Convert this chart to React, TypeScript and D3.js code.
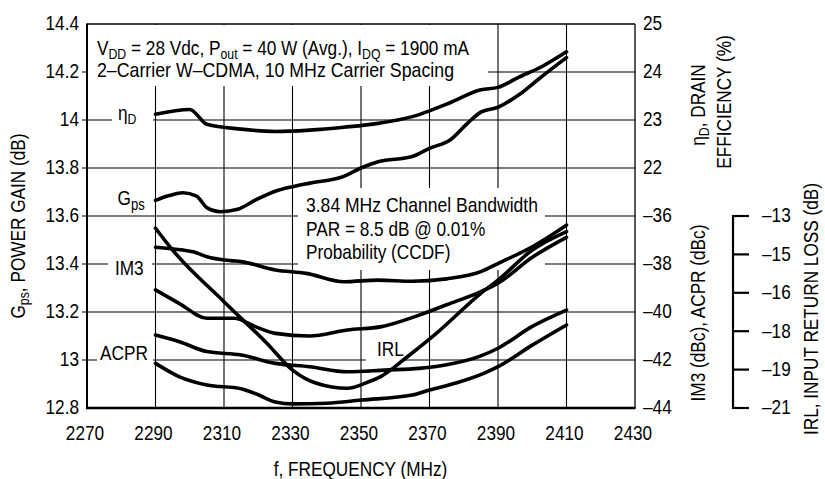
import React from 'react';
import * as d3 from 'd3';

// ---------- data ----------
const freqTicks = [2270, 2290, 2310, 2330, 2350, 2370, 2390, 2410, 2430];
const gainTicks = [12.8, 13.0, 13.2, 13.4, 13.6, 13.8, 14.0, 14.2, 14.4];
const gainTickLabels = ['12.8', '13', '13.2', '13.4', '13.6', '13.8', '14', '14.2', '14.4'];
const effTicks = [22, 23, 24, 25];
const dbcTicks = [-44, -42, -40, -38, -36];
const dbcTickLabels = ['–44', '–42', '–40', '–38', '–36'];
const irlTicks = [-21, -19.4, -17.8, -16.2, -14.6, -13];
const irlTickLabels = ['–21', '–19', '–18', '–16', '–15', '–13'];

const effFreq = [2290, 2300, 2305, 2315, 2325, 2335, 2345, 2355, 2365, 2370, 2376, 2385, 2390, 2396, 2403, 2410];
const effVals = [23.12, 23.22, 22.91, 22.81, 22.76, 22.79, 22.85, 22.93, 23.07, 23.19, 23.36, 23.63, 23.68, 23.89, 24.12, 24.42];

const gpsFreq = [2290, 2294, 2298, 2302, 2305, 2309, 2314, 2319, 2325, 2330, 2335, 2345, 2350, 2355, 2365, 2370, 2376, 2381, 2385, 2390, 2396, 2402, 2410];
const gpsVals = [13.665, 13.685, 13.697, 13.683, 13.635, 13.618, 13.628, 13.665, 13.703, 13.722, 13.737, 13.765, 13.8, 13.826, 13.848, 13.882, 13.917, 13.985, 14.033, 14.053, 14.104, 14.172, 14.26];

const irlFreq = [2290, 2295, 2310, 2322.5, 2330, 2337, 2346, 2352, 2356, 2359, 2362, 2372, 2385, 2390, 2400, 2410];
const irlVals = [-13.51, -14.42, -16.57, -18.3, -19.42, -19.97, -20.18, -19.92, -19.67, -19.38, -19.04, -17.89, -16.22, -15.67, -14.42, -13.65];

const im3UpperFreq = [2290, 2298, 2301, 2305, 2312, 2315, 2325, 2334, 2345, 2355, 2365, 2375, 2385, 2390, 2400, 2410];
const im3UpperVals = [-37.3, -37.42, -37.49, -37.7, -37.86, -37.9, -38.25, -38.39, -38.74, -38.67, -38.72, -38.62, -38.32, -37.98, -37.28, -36.38];

const im3LowerFreq = [2290, 2297, 2305, 2313, 2319, 2325, 2335, 2346, 2356, 2367, 2375, 2385, 2390, 2400, 2410];
const im3LowerVals = [-39.08, -39.65, -40.26, -40.26, -40.6, -40.89, -41.0, -40.75, -40.61, -40.13, -39.7, -39.15, -38.8, -37.72, -36.89];

const acprUpperFreq = [2290, 2297, 2305, 2315, 2325, 2335, 2346, 2357, 2367, 2375, 2385, 2390, 2400, 2410];
const acprUpperVals = [-40.96, -41.24, -41.65, -41.79, -42.14, -42.28, -42.49, -42.42, -42.35, -42.2, -41.83, -41.51, -40.6, -39.92];

const acprLowerFreq = [2290, 2297, 2305, 2315, 2320, 2325, 2330, 2340, 2350, 2365, 2370, 2378, 2386, 2390, 2400, 2410];
const acprLowerVals = [-42.14, -42.7, -43.04, -43.2, -43.45, -43.75, -43.83, -43.8, -43.67, -43.46, -43.25, -42.95, -42.55, -42.28, -41.38, -40.54];

// ---------- layout ----------
const W = 825;
const H = 479;
const L = 87;
const R = 635;
const T = 24;
const B = 408;
const FONT = "'Liberation Sans', Arial, sans-serif";
const FS = 21;
const SUB = 15;
const NARROW = 0.82;

const x = d3.scaleLinear().domain([2270, 2430]).range([L, R]);
const yG = d3.scaleLinear().domain([12.8, 14.4]).range([B, T]);
const yEff = d3.scaleLinear().domain([22, 25]).range([yG(13.8), T]);
const yDbc = d3.scaleLinear().domain([-44, -36]).range([B, yG(13.6)]);
const yIrl = d3.scaleLinear().domain([-21, -13]).range([B, yG(13.6)]);
const IRL_AX = 733;

function zip(f: number[], v: number[]): [number, number][] {
  return f.map((d, i) => [d, v[i]]);
}

function pathFor(f: number[], v: number[], y: d3.ScaleLinear<number, number>) {
  const gen = d3
    .line<[number, number]>()
    .x((d) => x(d[0]))
    .y((d) => y(d[1]))
    .curve(d3.curveMonotoneX);
  return gen(zip(f, v)) || '';
}

const series = [
  { f: effFreq, v: effVals, y: yEff },
  { f: gpsFreq, v: gpsVals, y: yG },
  { f: irlFreq, v: irlVals, y: yIrl },
  { f: im3UpperFreq, v: im3UpperVals, y: yDbc },
  { f: im3LowerFreq, v: im3LowerVals, y: yDbc },
  { f: acprUpperFreq, v: acprUpperVals, y: yDbc },
  { f: acprLowerFreq, v: acprLowerVals, y: yDbc },
];

// white label backgrounds (cover the grid behind the text)
const boxes = [
  { x0: L + 1, x1: 488, y0: T + 1, y1: 86 },
  { x0: 298, x1: 545, y0: 188, y1: 270 },
  { x0: 112, x1: 153, y0: 106, y1: 130 },
  { x0: 108, x1: 152, y0: 253, y1: 277 },
  { x0: 97, x1: 153, y0: 342, y1: 364 },
  { x0: 366, x1: 405, y0: 336, y1: 364 },
];

type TxtProps = {
  x: number;
  y: number;
  rot?: number;
  anchor?: 'start' | 'middle' | 'end';
  dy?: string | number;
  span?: number;
  children?: React.ReactNode;
};

function Txt({ x: tx, y: ty, rot = 0, anchor = 'start', dy, span, children }: TxtProps) {
  const extra = span ? { textLength: span / NARROW, lengthAdjust: 'spacingAndGlyphs' } : {};
  return (
    <text
      transform={`translate(${tx},${ty}) rotate(${rot}) scale(${NARROW},1)`}
      textAnchor={anchor}
      dy={dy}
      {...(extra as any)}
    >
      {children}
    </text>
  );
}

export default function App() {
  const inner = gainTicks.filter((g) => g > 12.85 && g < 14.35);
  const innerF = freqTicks.filter((f) => f > 2275 && f < 2425);
  return (
    <svg
      width={W}
      height={H}
      viewBox={`0 0 ${W} ${H}`}
      style={{ position: 'absolute', left: 0, top: 0, background: '#fff' }}
      fontFamily={FONT}
      fontSize={FS}
      fill="#000"
    >
      <rect x={0} y={0} width={W} height={H} fill="#fff" />
      {/* grid */}
      {inner.map((g) => (
        <line key={'h' + g} x1={L - 5} x2={R} y1={yG(g)} y2={yG(g)} stroke="#000" strokeWidth={1.1} />
      ))}
      {innerF.map((f) => (
        <line key={'v' + f} x1={x(f)} x2={x(f)} y1={T} y2={B} stroke="#000" strokeWidth={1.1} />
      ))}
      {boxes.map((b, i) => (
        <rect key={'b' + i} x={b.x0} y={b.y0} width={b.x1 - b.x0} height={b.y1 - b.y0} fill="#fff" />
      ))}
      {/* frame */}
      <line x1={L} x2={R} y1={T} y2={T} stroke="#000" strokeWidth={1.3} />
      <line x1={R} x2={R} y1={T} y2={B} stroke="#000" strokeWidth={1.3} />
      <line x1={L} x2={L} y1={T - 0.6} y2={B} stroke="#000" strokeWidth={2} />
      <line x1={L - 1} x2={R + 0.6} y1={B} y2={B} stroke="#000" strokeWidth={2.6} />

      {/* curves */}
      {series.map((s, i) => (
        <path
          key={'s' + i}
          d={pathFor(s.f, s.v, s.y)}
          fill="none"
          stroke="#000"
          strokeWidth={3.6}
          strokeLinejoin="round"
          strokeLinecap="round"
        />
      ))}

      {/* left axis labels */}
      {gainTicks.map((g, i) => (
        <Txt key={'gl' + g} x={79} y={yG(g)} dy="0.3em" anchor="end">
          {gainTickLabels[i]}
        </Txt>
      ))}
      {/* bottom axis labels */}
      {freqTicks.map((f) => (
        <Txt key={'fl' + f} x={x(f) - 2} y={440} anchor="middle">
          {f}
        </Txt>
      ))}
      {/* right axis: efficiency */}
      {effTicks.map((e) => (
        <Txt key={'el' + e} x={643} y={yEff(e)} dy="0.3em">
          {e}
        </Txt>
      ))}
      {/* right axis: dBc */}
      {dbcTicks.map((d, i) => (
        <Txt key={'dl' + d} x={643} y={yDbc(d)} dy="0.3em">
          {dbcTickLabels[i]}
        </Txt>
      ))}
      {/* IRL axis */}
      <line x1={IRL_AX} x2={IRL_AX} y1={yIrl(-13) - 1} y2={yIrl(-21) + 1} stroke="#000" strokeWidth={2.2} />
      {irlTicks.map((r, i) => (
        <g key={'ir' + r}>
          <line x1={IRL_AX} x2={IRL_AX + 16} y1={yIrl(r)} y2={yIrl(r)} stroke="#000" strokeWidth={2.2} />
          <Txt x={762} y={yIrl(r)} dy="0.3em">
            {irlTickLabels[i]}
          </Txt>
        </g>
      ))}

      {/* axis titles */}
      <Txt x={25} y={226} rot={-90} anchor="middle">
        G<tspan fontSize={SUB} dy={4}>ps</tspan>
        <tspan dy={-4}>, POWER GAIN (dB)</tspan>
      </Txt>
      <Txt x={360.5} y={476} anchor="middle">
        f, FREQUENCY (MHz)
      </Txt>
      <Txt x={705} y={105} rot={-90} anchor="middle">
        η<tspan fontSize={SUB} dy={4}>D</tspan>
        <tspan dy={-4}>, DRAIN</tspan>
      </Txt>
      <Txt x={731} y={102} rot={-90} anchor="middle">
        EFFICIENCY (%)
      </Txt>
      <Txt x={705} y={313} rot={-90} anchor="middle">
        IM3 (dBc), ACPR (dBc)
      </Txt>
      <Txt x={818} y={309} rot={-90} anchor="middle">
        IRL, INPUT RETURN LOSS (dB)
      </Txt>

      {/* annotations */}
      <Txt x={97} y={54.5}>
        V<tspan fontSize={15} dy={4}>DD</tspan>
        <tspan dy={-4}> = 28 Vdc, P</tspan>
        <tspan fontSize={15} dy={4}>out</tspan>
        <tspan dy={-4}> = 40 W (Avg.), I</tspan>
        <tspan fontSize={15} dy={4}>DQ</tspan>
        <tspan dy={-4}> = 1900 mA</tspan>
      </Txt>
      <Txt x={97} y={77} span={357}>
        2–Carrier W–CDMA, 10 MHz Carrier Spacing
      </Txt>
      <Txt x={306} y={211.5} span={232}>
        3.84 MHz Channel Bandwidth
      </Txt>
      <Txt x={306} y={235.5}>PAR = 8.5 dB @ 0.01%</Txt>
      <Txt x={306} y={258.5}>Probability (CCDF)</Txt>

      {/* series labels */}
      <Txt x={118} y={120}>
        η<tspan fontSize={SUB} dy={4}>D</tspan>
      </Txt>
      <Txt x={117.5} y={205}>
        G<tspan fontSize={16} dy={5}>ps</tspan>
      </Txt>
      <Txt x={115} y={275}>IM3</Txt>
      <Txt x={100} y={360}>ACPR</Txt>
      <Txt x={377} y={356}>IRL</Txt>
    </svg>
  );
}
